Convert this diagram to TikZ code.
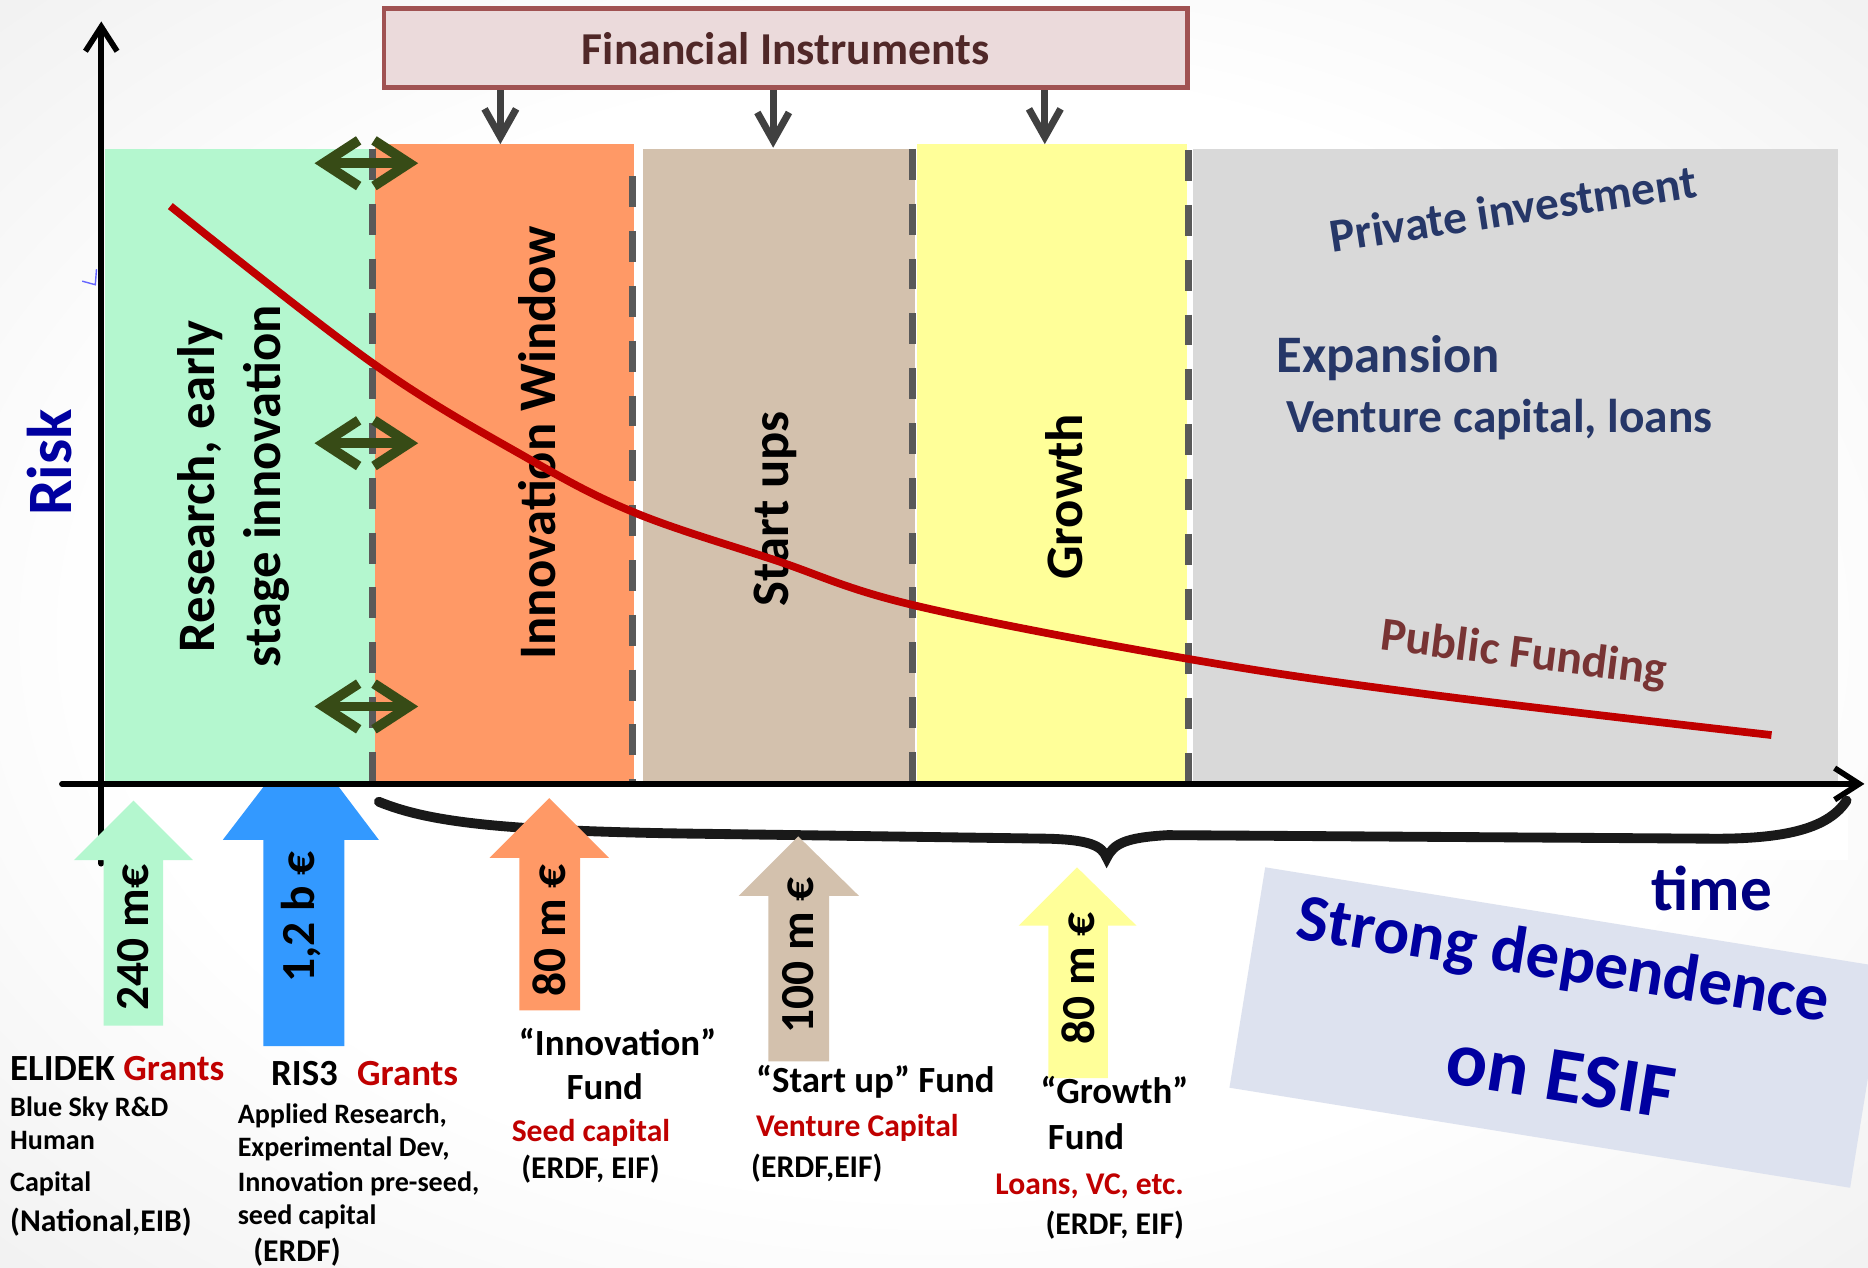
\documentclass[tikz,border=0pt]{standalone}
\usepackage{fontspec}
\setmainfont{Carlito}
\usetikzlibrary{arrows.meta}

\definecolor{mintfill}{RGB}{180,247,207}
\definecolor{orangefill}{RGB}{255,153,102}
\definecolor{tanfill}{RGB}{211,193,173}
\definecolor{yellowfill}{RGB}{255,255,153}
\definecolor{grayfill}{RGB}{217,217,217}
\definecolor{bluefill}{RGB}{51,153,255}
\definecolor{grantred}{RGB}{192,0,0}
\definecolor{riskblue}{RGB}{0,0,160}
\definecolor{timeblue}{RGB}{0,0,128}
\definecolor{navytext}{RGB}{38,55,104}
\definecolor{brownred}{RGB}{120,52,52}
\definecolor{boxfill}{RGB}{235,218,219}
\definecolor{boxline}{RGB}{160,82,82}
\definecolor{boxtext}{RGB}{80,40,40}
\definecolor{arrowgreen}{RGB}{55,75,22}
\definecolor{dashgray}{RGB}{89,89,89}
\definecolor{esiffill}{RGB}{221,226,239}

\pgfdeclareradialshading{bgshade}{\pgfpoint{0bp}{0bp}}{color(0bp)=(white); color(22bp)=(white); color(50bp)=(black!11); color(72bp)=(black!18)}

\begin{document}
\begin{tikzpicture}[x=0.011913cm, y=-0.011913cm,
    sep/.style={dashgray, line width=2pt, dash pattern=on 8.8pt off 6.8pt},
    axis/.style={line width=1.6pt, line cap=round, -{Straight Barb[length=7pt,width=9pt]}},
    both/.style={arrowgreen, line width=2.8pt, line cap=round,
      {Straight Barb[length=10pt,width=13pt]}-{Straight Barb[length=10pt,width=13pt]}},
    down/.style={black!75, line width=2pt, -{Straight Barb[length=8pt,width=9pt]}},
    stagetext/.style={rotate=90, font=\fontsize{15}{18.6}\selectfont\bfseries, align=center, inner sep=0pt},
    amount/.style={rotate=90, font=\fontsize{13.5}{15}\selectfont\bfseries, inner sep=0pt},
    hd/.style={font=\fontsize{10.5}{12}\selectfont\bfseries, anchor=base west, inner sep=0pt},
    sub/.style={font=\fontsize{9}{11}\selectfont\bfseries, anchor=base west, inner sep=0pt},
    minor/.style={font=\fontsize{8}{10}\selectfont\bfseries, anchor=base west, inner sep=0pt},
    esif/.style={rotate=-9, text=riskblue, font=\fontsize{19}{23}\selectfont\bfseries, inner sep=0pt}]
\useasboundingbox (0,0) rectangle (1568,1064);
\shade[shading=bgshade] (0,0) rectangle (1568,1064);
\fill[white] (300,662) rectangle (1551,722);

% blue arrow sits behind the stages
\fill[bluefill] (221,878) -- (221,705) -- (187,705) -- (253,619) -- (318,705) -- (289,705) -- (289,878) -- cycle;

% stages
\fill[mintfill] (88,125) rectangle (315,658);
\fill[orangefill] (315,121) rectangle (532,658);
\fill[tanfill] (540,125) rectangle (768,658);
\fill[yellowfill] (770,121) rectangle (996,658);
\fill[grayfill] (1001,125) rectangle (1543,658);
\draw[sep] (313,125) -- (313,658);
\draw[sep] (531,148) -- (531,658);
\draw[sep] (766,125) -- (766,658);
\draw[sep] (998,126) -- (998,669);

\node[stagetext] (research) at (196,408) {Research, early\\stage innovation};
\node[stagetext] (innovation) at (451,372) {Innovation Window};
\node[stagetext] (startups) at (651,427) {Start ups};
\node[stagetext] (growth) at (893,417) {Growth};

\node[font=\fontsize{13.5}{15}\selectfont\bfseries, text=navytext, rotate=8.7] (private) at (1270,175) {Private investment};
\node[font=\fontsize{15}{17}\selectfont\bfseries, text=navytext, anchor=base west, inner sep=0pt] (expansion) at (1071,313) {Expansion};
\node[font=\fontsize{13.5}{15}\selectfont\bfseries, text=navytext, anchor=base west, inner sep=0pt] (venture) at (1079,363) {Venture capital, loans};
\node[font=\fontsize{13.5}{15}\selectfont\bfseries, text=brownred, rotate=-7.2] (public) at (1279,550) {Public Funding};

% risk curve
\draw[grantred, line width=2.2pt] plot[smooth, tension=0.6] coordinates {(143,173) (313,305) (440,383) (532,430) (650,470) (767,508) (997,553) (1200,583) (1487,617)};

\draw[both] (264,137) -- (351,137);
\draw[both] (264,372) -- (351,372);
\draw[both] (264,593) -- (351,593);

% axes
\draw[blue!60, line width=0.4pt] (69,236) -- (80,239) -- (81,226);
\draw[axis] (85,725) -- (85,18);
\draw[axis] (52,658) -- (1565,658);
\node[rotate=90, font=\fontsize{18}{20}\selectfont\bfseries, text=riskblue, inner sep=0pt] (risk) at (42,388) {Risk};
\node[font=\fontsize{18}{20}\selectfont\bfseries, text=timeblue, anchor=base west, inner sep=0pt] (time) at (1386,764) {time};

% financial instruments
\node[draw=boxline, fill=boxfill, line width=1.3pt, minimum width=8.04cm, minimum height=0.79cm,
  font=\fontsize{13}{15}\selectfont\bfseries, text=boxtext] (fin) at (659.5,40.5) {Financial Instruments};
\coordinate (innov top) at (420,121);
\coordinate (start top) at (649,124);
\coordinate (growth top) at (877,121);
\draw[down] (fin.south -| innov top) -- (innov top);
\draw[down] (fin.south -| start top) -- (start top);
\draw[down] (fin.south -| growth top) -- (growth top);

% brace
\draw[black!90, line width=2.8pt, line cap=round] (318,673) .. controls (360,690) and (420,698) .. (600,700)
  -- (880,704) .. controls (915,705) and (925,710) .. (929,720)
  .. controls (935,708) and (945,703) .. (980,701) -- (1440,704)
  .. controls (1500,704) and (1535,695) .. (1550,672);

% funding arrows
\fill[mintfill] (87,861) -- (87,722) -- (62,722) -- (112,672) -- (162,722) -- (137,722) -- (137,861) -- cycle;
\node[amount] (amt elidek) at (112,787) {240 m€};
\node[amount] (amt ris) at (253,770) {1,2 b €};
\fill[orangefill] (436,848) -- (436,720) -- (411,720) -- (461,670) -- (511,720) -- (487,720) -- (487,848) -- cycle;
\node[amount] (amt innov) at (461,781) {80 m €};
\fill[tanfill] (645,891) -- (645,752) -- (620,752) -- (670,702) -- (721,752) -- (696,752) -- (696,891) -- cycle;
\node[amount] (amt start) at (670,802) {100 m €};
\fill[yellowfill] (880,905) -- (880,777) -- (855,777) -- (904,728) -- (954,777) -- (930,777) -- (930,905) -- cycle;
\node[amount] (amt growth) at (905,821) {80 m €};

% texts below
\node[hd] (elidek) at (8,907) {ELIDEK \textcolor{grantred}{Grants}};
\node[minor] (bluesky) at (8,937) {Blue Sky R\&D};
\node[minor] (human) at (8,965) {Human};
\node[minor] (capital) at (8,1000) {Capital};
\node[sub] (national) at (8,1034) {(National,EIB)};

\node[hd] (ris) at (227,911) {RIS3\hspace{5.5pt}\textcolor{grantred}{Grants}};
\node[minor] (applied) at (199,943) {Applied Research,};
\node[minor] (experimental) at (199,971) {Experimental Dev,};
\node[minor] (preseed) at (199,1000) {Innovation pre-seed,};
\node[minor] (seed) at (199,1028) {seed capital};
\node[sub] (erdf ris) at (212,1059) {(ERDF)};

\node[hd] (innov fund) at (435,886) {“Innovation”};
\node[hd] (innov fund b) at (475,923) {Fund};
\node[sub, text=grantred] (seedcap) at (429,958) {Seed capital};
\node[sub] (erdf innov) at (437,989) {(ERDF, EIF)};

\node[hd] (start fund) at (634,917) {“Start up” Fund};
\node[sub, text=grantred] (venturecap) at (634,954) {Venture Capital};
\node[sub] (erdf start) at (630,988) {(ERDF,EIF)};

\node[hd] (growth fund) at (873,926) {“Growth”};
\node[hd] (growth fund b) at (879,965) {Fund};
\node[sub, text=grantred] (loans) at (835,1003) {Loans, VC, etc.};
\node[sub] (erdf growth) at (877,1036) {(ERDF, EIF)};

% ESIF note
\fill[esiffill] (1062,728) -- (1583,812) -- (1553,997) -- (1032,913) -- cycle;
\node[esif] (strong) at (1312,808) {Strong dependence};
\node[esif, font=\fontsize{22}{26}\selectfont\bfseries] (onesif) at (1310,903) {on ESIF};
\end{tikzpicture}
\end{document}
